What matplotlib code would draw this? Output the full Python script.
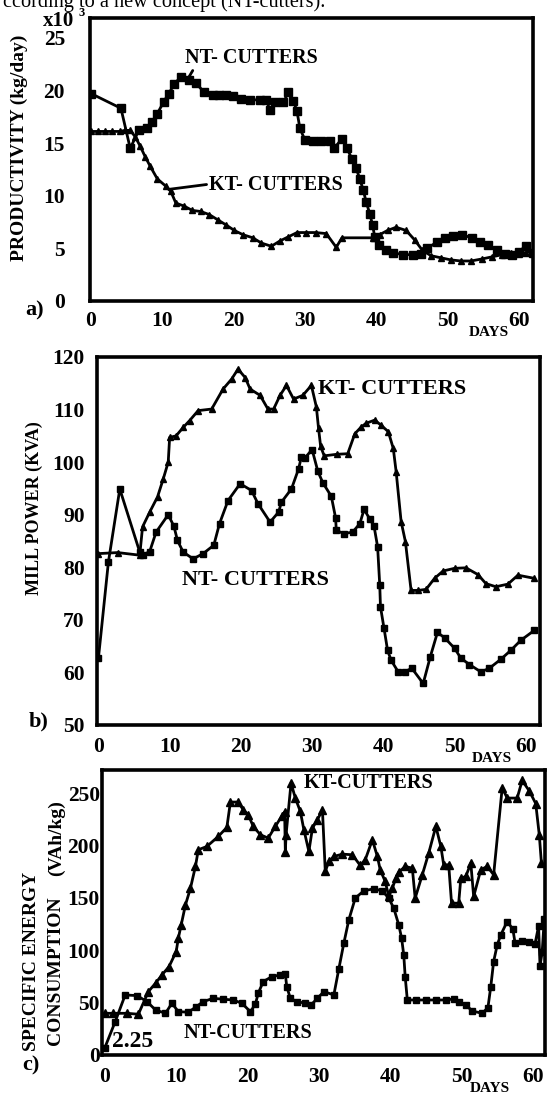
import matplotlib
matplotlib.use('Agg')
import matplotlib.pyplot as plt

plt.rcParams['font.family'] = ['Liberation Serif', 'DejaVu Serif']
plt.rcParams['font.weight'] = 'bold'

# ---------------- data ----------------
days_ticks = [0, 10, 20, 30, 40, 50, 60]
days_grid = [10, 20, 30, 40, 50, 60]

# a) productivity (x10^3 kg/day)
a_nt_x = [0, 4.2, 5.5, 6.7, 7.9, 8.6, 9.3, 10.2, 10.9, 11.7,
          12.6, 13.8, 14.7, 15.9, 17.1, 18.0, 18.9, 19.9, 21.1, 22.3,
          23.7, 24.6, 25.1, 25.8, 27.0, 27.7, 28.4, 28.9, 29.3, 30.0,
          31.2, 32.3, 33.5, 34.1, 35.2, 35.9, 36.6, 37.2, 37.7, 38.2,
          38.6, 39.1, 39.5, 39.8, 40.4, 41.4, 42.3, 43.7, 45.1, 46.3,
          47.2, 48.5, 49.6, 50.8, 52.0, 53.4, 54.5, 55.7, 56.9, 58.1,
          59.0, 60.0, 61.0, 62.0]
a_nt_y = [19.7, 18.3, 14.5, 16.2, 16.4, 17.0, 17.8, 18.9, 19.7, 20.6,
          21.3, 21.0, 20.7, 19.8, 19.6, 19.6, 19.6, 19.5, 19.2, 19.1,
          19.1, 19.1, 18.1, 18.9, 18.9, 19.8, 19.0, 18.0, 16.4, 15.3,
          15.2, 15.2, 15.2, 14.5, 15.4, 14.5, 13.5, 12.6, 11.6, 10.5,
          9.4, 8.3, 7.2, 6.1, 5.3, 4.8, 4.6, 4.4, 4.4, 4.5,
          5.0, 5.6, 6.0, 6.2, 6.3, 6.0, 5.6, 5.3, 4.8, 4.5,
          4.4, 4.7, 5.2, 4.6]
a_kt_x = [0, 1, 2, 3, 4, 4.8, 5.5, 6.2, 6.9, 7.6,
          8.3, 9.3, 10.5, 11.2, 11.9, 13.1, 14.2, 15.4, 16.6, 17.8,
          19.0, 20.1, 21.3, 22.7, 23.9, 25.3, 26.5, 27.7, 28.9, 30.2,
          31.5, 33.0, 34.4, 35.2, 39.6, 40.5, 41.6, 42.8, 44.2, 45.4,
          46.5, 47.7, 49.1, 50.5, 51.9, 53.3, 54.9, 56.3, 57.7, 58.9,
          60.0, 61.0, 62.0]
a_kt_y = [16.1, 16.1, 16.1, 16.1, 16.1, 16.2, 16.2, 15.6, 14.7, 13.7,
          12.8, 11.6, 10.9, 10.4, 9.3, 9.0, 8.6, 8.5, 8.2, 7.7,
          7.2, 6.7, 6.3, 6.0, 5.5, 5.2, 5.7, 6.1, 6.5, 6.5,
          6.5, 6.4, 5.1, 6.0, 6.0, 6.3, 6.7, 7.0, 6.7, 5.8,
          4.8, 4.3, 4.1, 3.9, 3.8, 3.8, 4.0, 4.2, 4.4, 4.6,
          4.5, 4.6, 4.8]
a_yticks = [0, 5, 10, 15, 20, 25]
a_ygrid = [5, 10, 15, 20, 25]

# b) mill power (KVA)
b_nt_x = [0, 1.4, 3.0, 5.8, 6.2, 7.2, 8.1, 9.8, 10.6, 11.1,
          11.9, 13.3, 14.7, 16.2, 17.0, 18.2, 19.9, 21.5, 22.4, 24.1,
          25.3, 25.7, 27.1, 28.1, 28.5, 29.0, 30.0, 30.8, 31.5, 32.7,
          33.3, 33.4, 34.5, 35.7, 36.7, 37.3, 38.1, 38.7, 39.2, 39.5,
          39.6, 40.1, 40.6, 41.1, 42.1, 43.0, 44.0, 45.6, 46.6, 47.6,
          48.6, 50.0, 50.9, 52.1, 53.7, 54.9, 56.5, 57.9, 59.3, 61.2]
b_nt_y = [62.7, 81.0, 94.9, 82.9, 82.3, 83.0, 86.7, 90.0, 87.8, 85.1,
          82.9, 81.6, 82.6, 84.2, 88.3, 92.7, 95.9, 94.6, 92.1, 88.6,
          90.5, 92.4, 94.9, 98.7, 101.0, 100.8, 102.4, 98.3, 96.1, 93.5,
          89.4, 87.0, 86.4, 86.7, 88.3, 91.0, 89.2, 87.8, 83.9, 76.6,
          72.5, 68.4, 64.2, 62.3, 60.1, 60.1, 60.8, 57.9, 63.0, 67.6,
          66.6, 64.6, 62.7, 61.5, 60.1, 60.8, 62.5, 64.2, 66.1, 68.0]
b_kt_x = [0, 2.7, 5.8, 6.2, 7.2, 8.3, 9.1, 9.8, 10.0, 10.9,
          11.9, 12.8, 14.0, 15.9, 17.5, 18.7, 19.6, 20.6, 21.3, 22.7,
          23.8, 24.6, 25.5, 26.4, 27.4, 28.7, 29.9, 30.6, 30.9, 31.2,
          31.7, 33.5, 35.0, 36.0, 36.9, 37.6, 38.8, 39.7, 40.7, 41.4,
          41.8, 42.5, 43.1, 43.9, 44.9, 46.0, 47.2, 48.4, 50.0, 51.6,
          53.3, 54.4, 55.8, 57.5, 58.9, 61.2]
b_kt_y = [82.6, 82.8, 82.3, 87.7, 90.5, 93.4, 96.8, 100.0, 104.7, 105.0,
          106.6, 107.9, 109.8, 110.1, 113.9, 115.8, 117.7, 116.1, 113.9, 112.7,
          110.1, 110.1, 112.7, 114.6, 112.0, 112.7, 114.6, 110.5, 106.5, 103.0,
          101.2, 101.5, 101.6, 105.4, 106.7, 107.4, 108.0, 107.0, 105.8, 102.6,
          98.2, 88.7, 84.9, 75.6, 75.6, 75.8, 77.9, 79.3, 79.8, 79.9,
          78.6, 76.9, 76.3, 76.8, 78.5, 77.9]
b_yticks = [50, 60, 70, 80, 90, 100, 110, 120]
b_ygrid = [60, 70, 80, 90, 100, 110]

# c) specific energy consumption (VAh/kg)
c_nt_x = [0, 1.45, 2.85, 4.5, 5.9, 7.1, 8.5, 9.4, 10.3, 11.7,
          12.8, 13.8, 15.2, 16.6, 18.0, 19.2, 20.4, 21.1, 21.5, 22.2,
          23.4, 24.6, 25.3, 25.5, 26.0, 26.9, 28.1, 28.9, 29.8, 30.7,
          32.1, 32.8, 33.5, 34.2, 35.1, 36.3, 37.7, 38.9, 39.8, 40.5,
          41.2, 41.6, 41.9, 42.1, 42.4, 43.6, 45.0, 46.4, 47.8, 48.9,
          49.6, 50.6, 51.5, 52.9, 53.7, 54.1, 54.5, 55.0, 55.5, 56.4,
          57.2, 57.5, 58.5, 59.5, 60.3, 60.8, 61.0, 61.3, 61.6]
c_nt_y = [7, 31.8, 57.3, 56.7, 51, 43, 39.8, 49.4, 41.4, 40.8,
          46, 51, 54.1, 53.2, 52.5, 49.4, 41.4, 48.4, 58.9, 70,
          74.8, 76.4, 77, 65.3, 54.1, 51, 49.4, 47.8, 54.1, 60.5,
          57.3, 82.2, 106.7, 129, 149.7, 156.7, 158.6, 156.7, 149.7, 140.1,
          124.2, 111.5, 95.5, 74.8, 52.5, 52.5, 52.5, 52.5, 52.5, 53.5,
          51, 47.8, 42, 39.8, 45.2, 65.3, 89.2, 105, 114.6, 127.4,
          120, 107, 108.5, 108, 106, 123, 85, 98, 130]
c_kt_x = [0, 1.2, 3.1, 4.7, 6.1, 7.1, 8.0, 9.0, 10.0, 10.3,
          10.7, 11.3, 12.0, 12.7, 13.1, 14.3, 15.9, 17.1, 17.6, 18.7,
          19.4, 20.1, 20.8, 21.8, 22.9, 23.9, 24.8, 25.2, 25.3, 25.4,
          26.1, 26.7, 27.4, 27.9, 28.6, 29.1, 29.8, 30.5, 30.9, 31.4,
          32.1, 33.3, 34.7, 35.8, 36.5, 37.5, 38.2, 38.6, 39.3, 39.8,
          40.3, 40.8, 41.2, 42.1, 43.1, 43.5, 44.5, 45.4, 46.4, 47.1,
          47.5, 48.2, 48.6, 49.6, 49.9, 50.6, 51.3, 51.7, 52.7, 53.6,
          54.5, 55.7, 56.4, 57.8, 58.5, 59.5, 60.4, 60.9, 61.2]
c_kt_y = [39.8, 39.8, 39.8, 38.9, 60.5, 68.5, 76.4, 84.4, 98.7, 111.5,
          124.2, 143.3, 159.2, 180, 195.9, 199, 208.6, 217.2, 241.4, 241.4,
          234, 229.3, 218.2, 210.2, 207, 218.2, 228, 232, 194, 210,
          259.6, 245.2, 232.5, 215, 194.3, 216.6, 224.5, 234, 175.2, 184.7,
          189.5, 191.7, 191.1, 180.9, 186.3, 205.4, 189.5, 176.8, 165.6, 151.3,
          159.2, 168.8, 174.5, 180, 178.3, 149.7, 172, 192.7, 218.2, 199,
          181.5, 181.5, 144.9, 144.9, 168.8, 170.4, 183.1, 151.3, 176.8, 180,
          172, 255, 245.2, 245.2, 262, 252, 240, 210, 183]
c_yticks = [0, 50, 100, 150, 200, 250]
c_ygrid = [50, 100, 150, 200, 250]

# ---------------- figure ----------------
W, H = 547, 1093
fig = plt.figure(figsize=(W / 100, H / 100), dpi=100)


def px_axes(l, t, r, b):
    return fig.add_axes([l / W, 1 - b / H, (r - l) / W, (b - t) / H])


def style(ax, xlim, ylim, yticks, ygrid, ypad, xpad):
    ax.set_xlim(*xlim)
    ax.set_ylim(*ylim)
    ax.set_xticks(days_ticks)
    ax.set_yticks(yticks)
    ax.set_xticks(days_grid, minor=True)
    ax.set_yticks(ygrid, minor=True)
    ax.grid(True, which='minor', color='black', lw=1.7)
    ax.grid(False, which='major')
    ax.set_axisbelow(True)
    for s in ax.spines.values():
        s.set_linewidth(2.6)
        s.set_zorder(6)
    ax.tick_params(which='both', length=0)
    ax.tick_params(axis='y', which='major', labelsize=15.5, pad=ypad)
    ax.tick_params(axis='x', which='major', labelsize=15.5, pad=xpad)


ax_a = px_axes(90, 17.7, 533, 301)
ax_b = px_axes(97, 357, 540, 725)
ax_c = px_axes(102, 770, 545, 1055)

style(ax_a, (-0.14, 62), (0, 26.9), a_yticks, a_ygrid, 18, 7)
style(ax_b, (-0.2, 62), (50, 120), b_yticks, b_ygrid, 9, 8.5)
style(ax_c, (-0.4, 61.7), (0, 272), c_yticks, c_ygrid, 1.5, 8.5)

lk = dict(color='black', lw=2.0, zorder=4)
ax_a.plot(a_nt_x, a_nt_y, marker='s', ms=5.5, **lk)
ax_a.plot(a_kt_x, a_kt_y, marker='^', ms=4.5, **lk)
ax_b.plot(b_nt_x, b_nt_y, marker='s', ms=5, **lk)
ax_b.plot(b_kt_x, b_kt_y, marker='^', ms=4.2, **lk)
ax_c.plot(c_nt_x, c_nt_y, marker='s', ms=5, **lk)
ax_c.plot(c_kt_x, c_kt_y, marker='^', ms=5.5, **lk)

# series labels
ax_a.annotate('NT- CUTTERS', xy=(13.5, 21.0), xytext=(13.2, 23.1),
              fontsize=14.5, va='center', ha='left', zorder=3,
              arrowprops=dict(arrowstyle='-', lw=2, color='black',
                              shrinkA=0, shrinkB=0, relpos=(0.07, 0.0)))
ax_a.annotate('KT- CUTTERS', xy=(10.9, 10.6), xytext=(16.6, 11.0),
              fontsize=14.5, va='center', ha='left', zorder=3,
              arrowprops=dict(arrowstyle='-', lw=2, color='black',
                              shrinkA=0, shrinkB=0, relpos=(0.0, 0.55)))

box = dict(facecolor='white', edgecolor='none', pad=4)
ax_b.text(30.8, 114, 'KT- CUTTERS', fontsize=16, va='center', ha='left',
          bbox=box, zorder=2.2)
ax_b.text(11.7, 77.5, 'NT- CUTTERS', fontsize=16, va='center', ha='left',
          bbox=box, zorder=2.2)
ax_c.text(27.9, 260, 'KT-CUTTERS', fontsize=14.6, va='center', ha='left',
          bbox=box, zorder=2.2)
ax_c.text(11.1, 21, 'NT-CUTTERS', fontsize=14.6, va='center', ha='left',
          bbox=box, zorder=2.2)
ax_c.text(1.0, 12.7, '2.25', fontsize=17, va='center', ha='left', zorder=5)

# axis titles and decorations (figure pixel positions)
def ftext(x, y, s, **kw):
    fig.text(x / W, 1 - y / H, s, **kw)

ftext(3, 7, 'ccording to a new concept (NT-cutters).', fontsize=14.6,
      fontweight='normal', va='baseline', ha='left')
ftext(59, 21.5, 'x10', fontsize=15, ha='center', va='center')
ftext(82, 12.5, '3', fontsize=9, ha='center', va='center')
ftext(19, 148, 'PRODUCTIVITY (kg/day)', fontsize=14, rotation=90,
      ha='center', va='center')
ftext(34, 508, 'MILL POWER (KVA)', fontsize=13, rotation=90,
      ha='center', va='center')
ftext(31.7, 961, 'SPECIFIC ENERGY', fontsize=14, rotation=90,
      ha='center', va='center')
ftext(56, 971, 'CONSUMPTION', fontsize=14, rotation=90,
      ha='center', va='center')
ftext(56, 838, '(VAh/kg)', fontsize=14, rotation=90,
      ha='center', va='center')
ftext(34.5, 310, 'a)', fontsize=16, ha='center', va='center')
ftext(38.5, 721.7, 'b)', fontsize=16, ha='center', va='center')
ftext(31, 1065, 'c)', fontsize=16, ha='center', va='center')
ftext(488.6, 333, 'DAYS', fontsize=11, ha='center', va='center')
ftext(492, 758, 'DAYS', fontsize=11, ha='center', va='center')
ftext(490, 1088, 'DAYS', fontsize=11, ha='center', va='center')

fig.savefig('out.png', dpi=100)
